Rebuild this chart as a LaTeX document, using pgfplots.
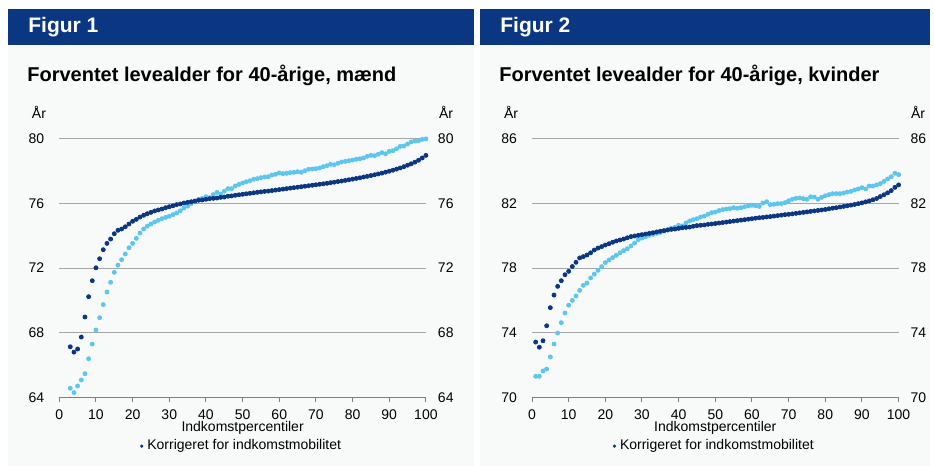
\documentclass[border=0pt]{standalone}
\usepackage{pgfplots}
\pgfplotsset{compat=1.18}
\usepackage{fontspec}
\setmainfont{Liberation Sans}
\definecolor{navy}{HTML}{0B3782}
\definecolor{sky}{HTML}{5CC6EF}
\definecolor{panelbg}{HTML}{F8F9F9}
\definecolor{gridc}{HTML}{A6A6A6}
\definecolor{axisc}{HTML}{7F7F7F}

\pgfplotsset{
  panel/.style={
    anchor=south west, scale only axis, width=183.3pt, height=129.2pt,
    xmin=0, xmax=100, xtick={0,10,...,100}, clip=false,
    axis x line*=bottom, axis y line*=left,
    y axis line style={draw=none},
    x axis line style={draw=axisc, line width=0.6pt},
    xtick style={draw=axisc, line width=0.5pt},
    ytick style={draw=none},
    tick align=outside, major tick length=2.5pt,
    ymajorgrids, grid style={draw=gridc, line width=0.5pt},
    tick label style={font=\fontsize{7}{8}\selectfont},
    yticklabel style={xshift=-1.5pt},
    /pgf/number format/assume math mode=true,
    xlabel={Indkomstpercentiler},
    xlabel style={font=\fontsize{7}{8}\selectfont, at={(0.5,-0.119)}, anchor=center},
    legend style={at={(0.5,-0.189)}, anchor=center, draw=none, fill=none,
      font=\fontsize{7}{8}\selectfont, inner sep=0pt},
    legend image code/.code={\fill[navy] (0.4em,0) circle (0.6pt);},
  },
  rightax/.style={
    anchor=south west, scale only axis, width=183.3pt, height=129.2pt,
    xmin=0, xmax=100, hide x axis, axis y line*=right,
    y axis line style={draw=none}, ytick style={draw=none},
    tick align=outside, major tick length=2.5pt,
    tick label style={font=\fontsize{7}{8}\selectfont},
    /pgf/number format/assume math mode=true,
  },
  skydots/.style={only marks, mark=*, color=sky, mark size=1pt, mark options={draw=none, fill=sky}},
  navydots/.style={only marks, mark=*, color=navy, mark size=1pt, mark options={draw=none, fill=navy}},
}

\begin{document}
\begin{tikzpicture}
\begin{scope}[x=0.5pt,y=-0.5pt]
\fill[white] (0,0) rectangle (934,466);
\fill[panelbg] (8,45) rectangle (474,466);
\fill[panelbg] (480,45) rectangle (930,466);
\fill[navy] (8,9) rectangle (474,45);
\fill[navy] (480,9) rectangle (930,45);
\node[anchor=west, inner sep=0pt, text=white, font=\bfseries\fontsize{10.5}{12}\selectfont] at (28,27) {Figur 1};
\node[anchor=west, inner sep=0pt, text=white, font=\bfseries\fontsize{10.5}{12}\selectfont] at (500,27) {Figur 2};
\node[anchor=west, inner sep=0pt, font=\bfseries\fontsize{10}{12}\selectfont] at (27,75) {Forventet levealder for 40-årige, mænd};
\node[anchor=west, inner sep=0pt, font=\bfseries\fontsize{10}{12}\selectfont] at (499,75) {Forventet levealder for 40-årige, kvinder};
\node[inner sep=0pt, font=\fontsize{7}{8}\selectfont] at (39,112) {År};
\node[inner sep=0pt, font=\fontsize{7}{8}\selectfont] at (446,112) {År};
\node[inner sep=0pt, font=\fontsize{7}{8}\selectfont] at (511,112) {År};
\node[inner sep=0pt, font=\fontsize{7}{8}\selectfont] at (918,112) {År};
\end{scope}

% Figur 1: men
\begin{axis}[panel, at={(29.65pt,-198.65pt)}, ymin=64, ymax=80, ytick={64,68,...,80}]
\addplot[skydots, forget plot] coordinates {
(3,64.56)(4,64.29)(5,64.70)(6,65.07)(7,65.46)(8,66.39)(9,67.30)(10,68.17)
(11,68.93)(12,69.74)(13,70.52)(14,71.12)(15,71.74)(16,72.18)(17,72.52)(18,72.87)
(19,73.26)(20,73.53)(21,73.84)(22,74.17)(23,74.42)(24,74.60)(25,74.73)(26,74.85)
(27,74.96)(28,75.06)(29,75.14)(30,75.21)(31,75.31)(32,75.41)(33,75.55)(34,75.72)
(35,75.84)(36,75.99)(37,76.14)(38,76.26)(39,76.32)(40,76.42)(41,76.36)(42,76.55)
(43,76.69)(44,76.59)(45,76.76)(46,76.92)(47,76.92)(48,77.08)(49,77.18)(50,77.27)
(51,77.35)(52,77.41)(53,77.50)(54,77.54)(55,77.60)(56,77.64)(57,77.66)(58,77.76)
(59,77.81)(60,77.89)(61,77.85)(62,77.87)(63,77.91)(64,77.93)(65,77.97)(66,77.93)
(67,78.03)(68,78.12)(69,78.14)(70,78.16)(71,78.20)(72,78.28)(73,78.34)(74,78.43)
(75,78.40)(76,78.49)(77,78.57)(78,78.61)(79,78.65)(80,78.69)(81,78.74)(82,78.77)
(83,78.82)(84,78.92)(85,78.98)(86,78.96)(87,79.05)(88,79.15)(89,79.08)(90,79.23)
(91,79.27)(92,79.39)(93,79.54)(94,79.56)(95,79.68)(96,79.81)(97,79.87)(98,79.89)
(99,79.97)(100,80.00)
};
\addplot[navydots] coordinates {
(3,67.13)(4,66.80)(5,66.99)(6,67.73)(7,68.97)(8,70.23)(9,71.22)(10,72.02)
(11,72.58)(12,73.14)(13,73.53)(14,73.80)(15,74.13)(16,74.34)(17,74.42)(18,74.56)
(19,74.73)(20,74.90)(21,75.02)(22,75.16)(23,75.27)(24,75.37)(25,75.45)(26,75.54)
(27,75.60)(28,75.66)(29,75.74)(30,75.80)(31,75.86)(32,75.93)(33,75.97)(34,76.03)
(35,76.07)(36,76.11)(37,76.15)(38,76.20)(39,76.22)(40,76.26)(41,76.30)(42,76.32)
(43,76.34)(44,76.38)(45,76.40)(46,76.45)(47,76.47)(48,76.51)(49,76.54)(50,76.57)
(51,76.60)(52,76.63)(53,76.66)(54,76.69)(55,76.72)(56,76.75)(57,76.77)(58,76.80)
(59,76.83)(60,76.86)(61,76.89)(62,76.92)(63,76.95)(64,76.98)(65,77.01)(66,77.04)
(67,77.07)(68,77.10)(69,77.13)(70,77.16)(71,77.19)(72,77.22)(73,77.25)(74,77.29)
(75,77.32)(76,77.36)(77,77.39)(78,77.43)(79,77.47)(80,77.51)(81,77.55)(82,77.59)
(83,77.64)(84,77.68)(85,77.73)(86,77.78)(87,77.83)(88,77.88)(89,77.94)(90,78.00)
(91,78.06)(92,78.13)(93,78.20)(94,78.28)(95,78.37)(96,78.46)(97,78.56)(98,78.68)
(99,78.82)(100,78.98)
};
\addlegendentry{Korrigeret for indkomstmobilitet}
\end{axis}
\begin{axis}[rightax, at={(29.65pt,-198.65pt)}, ymin=64, ymax=80, ytick={64,68,...,80}]
\addplot[draw=none] coordinates {(0,64)};
\end{axis}

% Figur 2: women
\begin{axis}[panel, at={(266pt,-198.65pt)}, ymin=70, ymax=86, ytick={70,74,...,86}]
\addplot[skydots, forget plot] coordinates {
(1,71.30)(2,71.30)(3,71.63)(4,71.75)(5,72.50)(6,73.30)(7,73.98)(8,74.62)
(9,75.22)(10,75.70)(11,76.00)(12,76.27)(13,76.62)(14,76.93)(15,77.08)(16,77.39)
(17,77.63)(18,77.86)(19,78.09)(20,78.34)(21,78.50)(22,78.65)(23,78.79)(24,78.95)
(25,79.08)(26,79.20)(27,79.37)(28,79.55)(29,79.76)(30,79.86)(31,79.94)(32,80.03)
(33,80.09)(34,80.15)(35,80.21)(36,80.30)(37,80.38)(38,80.46)(39,80.53)(40,80.65)
(41,80.61)(42,80.79)(43,80.92)(44,81.00)(45,81.06)(46,81.16)(47,81.22)(48,81.33)
(49,81.43)(50,81.47)(51,81.56)(52,81.62)(53,81.66)(54,81.68)(55,81.74)(56,81.70)
(57,81.74)(58,81.80)(59,81.85)(60,81.89)(61,81.86)(62,81.82)(63,82.03)(64,82.11)
(65,81.93)(66,81.95)(67,81.99)(68,81.99)(69,82.05)(70,82.17)(71,82.26)(72,82.32)
(73,82.34)(74,82.30)(75,82.26)(76,82.42)(77,82.40)(78,82.26)(79,82.38)(80,82.48)
(81,82.55)(82,82.61)(83,82.61)(84,82.61)(85,82.65)(86,82.71)(87,82.75)(88,82.84)
(89,82.90)(90,82.98)(91,82.90)(92,83.08)(93,83.08)(94,83.15)(95,83.23)(96,83.37)
(97,83.52)(98,83.66)(99,83.87)(100,83.79)
};
\addplot[navydots] coordinates {
(1,73.42)(2,73.10)(3,73.50)(4,74.43)(5,75.55)(6,76.33)(7,76.87)(8,77.22)
(9,77.59)(10,77.80)(11,78.10)(12,78.36)(13,78.63)(14,78.71)(15,78.81)(16,78.95)
(17,79.12)(18,79.24)(19,79.33)(20,79.43)(21,79.51)(22,79.60)(23,79.68)(24,79.74)
(25,79.80)(26,79.88)(27,79.95)(28,79.99)(29,80.03)(30,80.07)(31,80.11)(32,80.15)
(33,80.19)(34,80.24)(35,80.28)(36,80.32)(37,80.36)(38,80.40)(39,80.42)(40,80.46)
(41,80.50)(42,80.52)(43,80.54)(44,80.59)(45,80.63)(46,80.65)(47,80.67)(48,80.71)
(49,80.73)(50,80.76)(51,80.79)(52,80.82)(53,80.85)(54,80.88)(55,80.91)(56,80.94)
(57,80.97)(58,81.00)(59,81.03)(60,81.06)(61,81.09)(62,81.12)(63,81.14)(64,81.17)
(65,81.19)(66,81.22)(67,81.25)(68,81.28)(69,81.31)(70,81.33)(71,81.36)(72,81.39)
(73,81.42)(74,81.45)(75,81.48)(76,81.51)(77,81.54)(78,81.57)(79,81.60)(80,81.63)
(81,81.67)(82,81.71)(83,81.74)(84,81.78)(85,81.82)(86,81.86)(87,81.90)(88,81.94)
(89,81.99)(90,82.04)(91,82.10)(92,82.16)(93,82.23)(94,82.31)(95,82.43)(96,82.54)
(97,82.66)(98,82.80)(99,83.00)(100,83.15)
};
\addlegendentry{Korrigeret for indkomstmobilitet}
\end{axis}
\begin{axis}[rightax, at={(266pt,-198.65pt)}, ymin=70, ymax=86, ytick={70,74,...,86}]
\addplot[draw=none] coordinates {(0,70)};
\end{axis}
\end{tikzpicture}
\end{document}
